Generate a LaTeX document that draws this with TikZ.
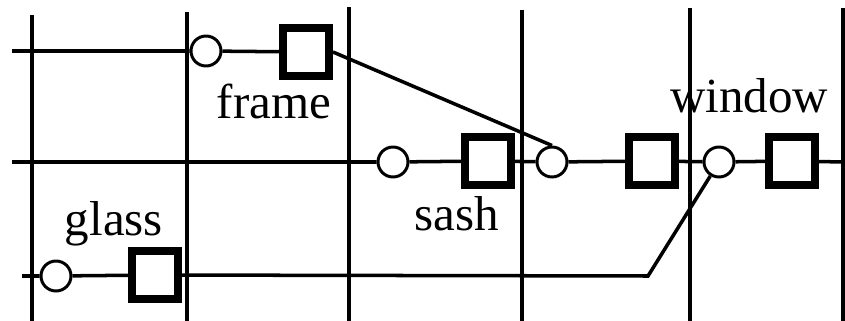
\documentclass[tikz,border=0pt]{standalone}
\usepackage{fontspec}
\setmainfont{Liberation Serif}
\usetikzlibrary{positioning}

\begin{document}
\begin{tikzpicture}[
  x=0.02cm, y=-0.02cm,
  font=\fontsize{27.9}{30}\selectfont,
  grid/.style={line width=1.9pt},
  wire/.style={line width=2pt},
  port/.style={circle,draw,fill=white,line width=1.7pt,minimum size=0.6cm,inner sep=0pt},
  part/.style={rectangle,draw,fill=white,line width=4.5pt,minimum width=0.92cm,minimum height=0.96cm,inner sep=0pt},
  lbl/.style={anchor=base,inner sep=0pt}
]
\useasboundingbox (0,0) rectangle (845,321);

% vertical rules
\foreach \x/\t in {32/15,187/12,349/7,522/10,690/8,843/8}
  \draw[grid] (\x,\t) -- (\x,321);

% frame row
\node[port] (frameport) at (206,51) {};
\node[part] (framebox) at (306,52) {};
% sash row
\node[port] (sashport) at (393,162) {};
\node[part] (sashbox) at (488,161) {};
\node[port] (midport) at (552,162) {};
\node[part] (midbox) at (652,161) {};
\node[port] (winport) at (719,162) {};
\node[part] (winbox) at (792,161) {};
% glass row
\node[port] (glassport) at (56,276) {};
\node[part] (glassbox) at (155,275) {};

\coordinate (r1) at (12,51);
\coordinate (r2) at (12,162);
\coordinate (r2end) at (843,162);
\coordinate (r3) at (22,276);
\coordinate (bend) at (648,276);

\draw[wire] (r1) -- (frameport) -- (framebox);
\draw[wire] (framebox.east) -- (midport.north);
\draw[wire] (r2) -- (sashport) -- (sashbox) -- (midport) -- (midbox) -- (winport) -- (winbox) -- (r2end);
\draw[wire] (r3) -- (glassport) -- (glassbox) -- (bend) -- (winport);

\node[lbl] (framelbl) at (274,118) {frame};
\node[lbl] (winlbl) at (749,112) {window};
\node[lbl] (glasslbl) at (114,235) {glass};
\node[lbl] (sashlbl) at (457,230) {sash};
\end{tikzpicture}
\end{document}
